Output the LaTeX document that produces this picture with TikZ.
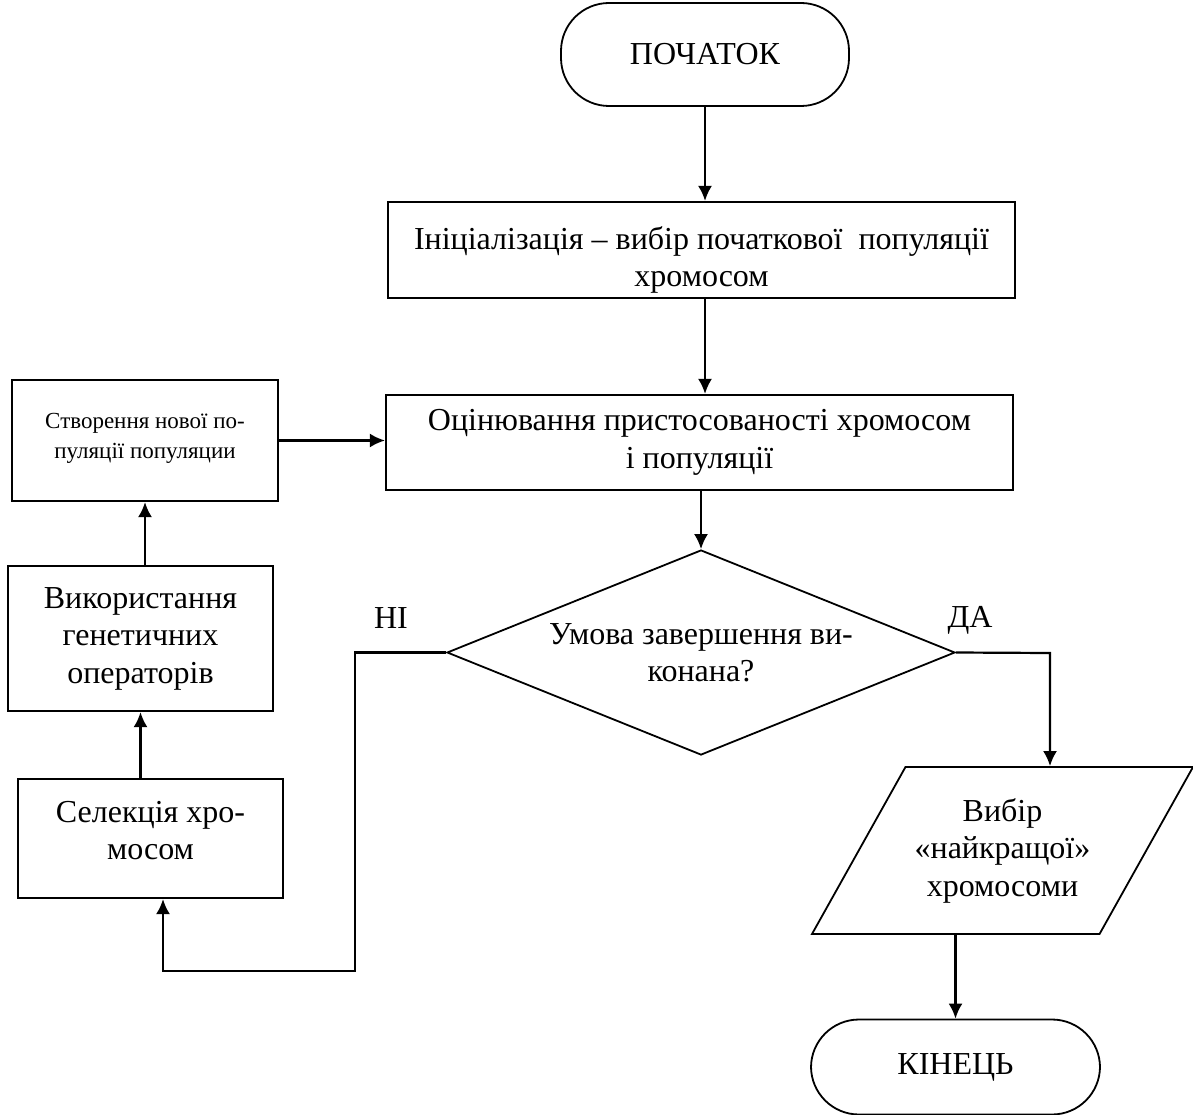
\documentclass[tikz,border=0pt]{standalone}
\usepackage{fontspec}
\setmainfont{Liberation Serif}
\usetikzlibrary{arrows.meta,shapes.geometric,positioning}

\begin{document}
\begin{tikzpicture}[
    x=1pt, y=-1pt,
    font=\fontsize{32}{37.5}\selectfont,
    line width=2.2pt,
    >={Latex[length=15pt,width=14pt]},
    proc/.style={
        draw,
        rectangle,
        align=center,
        inner sep=2pt,
    },
    term/.style={
        draw,
        rectangle,
        rounded corners=48pt,
        line width=1.8pt,
        minimum width=288pt,
        minimum height=103pt,
    },
    decide/.style={
        draw,
        diamond,
        shape aspect=2.5,
        align=center,
        inner sep=0pt,
        line width=1.8pt,
        minimum width=508pt,
        minimum height=205pt,
    },
    io/.style={
        draw,
        trapezium,
        trapezium left angle=50,
        trapezium right angle=130,
        trapezium stretches body,
        align=center,
        line width=1.8pt,
        minimum width=381pt,
        minimum height=167pt,
    },
    answer/.style={inner sep=0pt},
    flow/.style={->},
]

\useasboundingbox (0,0) rectangle (1193,1115);

\node[term] (Start) at (705,54.5) {ПОЧАТОК};
\node[proc, minimum width=627pt, minimum height=96pt] (Init) at (701.5,250)
    {\rule{0pt}{43pt}Ініціалізація – вибір початкової\ \ популяції\\хромосом};
\node[proc, minimum width=627pt, minimum height=95pt] (Eval) at (699.5,442.5)
    {Оцінювання пристосованості хромосом\\і популяції};
\node[decide] (Check) at (701,652.5) {Умова завершення ви-\\конана?};
\node[io] (Pick) at (1002.5,850.5) {Вибір\\«найкращої»\\хромосоми};
\node[term, minimum width=289pt, minimum height=95pt] (End) at (955.5,1067) {КІНЕЦЬ};

\node[proc, minimum width=266pt, minimum height=121pt, font=\fontsize{23}{30}\selectfont]
    (Create) at (145,440.5) {Створення нової по-\\пуляції популяции\rule[-10pt]{0pt}{10pt}};
\node[proc, minimum width=265pt, minimum height=145pt] (Genops) at (140.5,638.5)
    {Використання\\генетичних\\операторів};
\node[proc, minimum width=265pt, minimum height=119pt] (Select) at (150.5,838.5)
    {Селекція хро-\\мосом\rule[-16pt]{0pt}{16pt}};

\node[answer] (No) at (391,618) {НІ};
\node[answer] (Yes) at (970,620) {ДА};

\coordinate (NoBend) at (355,971);
\coordinate (YesBend) at (1050,653);

\draw[flow] (Start.south) -- (Start.south |- Init.north);
\draw[flow] (Init.south -| Start.south) -- (Eval.north -| Start.south);
\draw[flow] (Eval.south -| Check.north) -- (Check.north);
\draw[flow] (Check.west) -| (NoBend) -| ([xshift=12.5pt]Select.south);
\draw[flow] (Select.north -| Genops.south) -- (Genops.south);
\draw[flow] (Genops.north -| Create.south) -- (Create.south);
\draw[flow] (Create.east) -- (Create.east -| Eval.west);
\draw[flow] (Check.east) -- (YesBend) -- (YesBend |- Pick.north);
\draw[flow] (Pick.south -| End.north) -- (End.north);

\end{tikzpicture}
\end{document}
